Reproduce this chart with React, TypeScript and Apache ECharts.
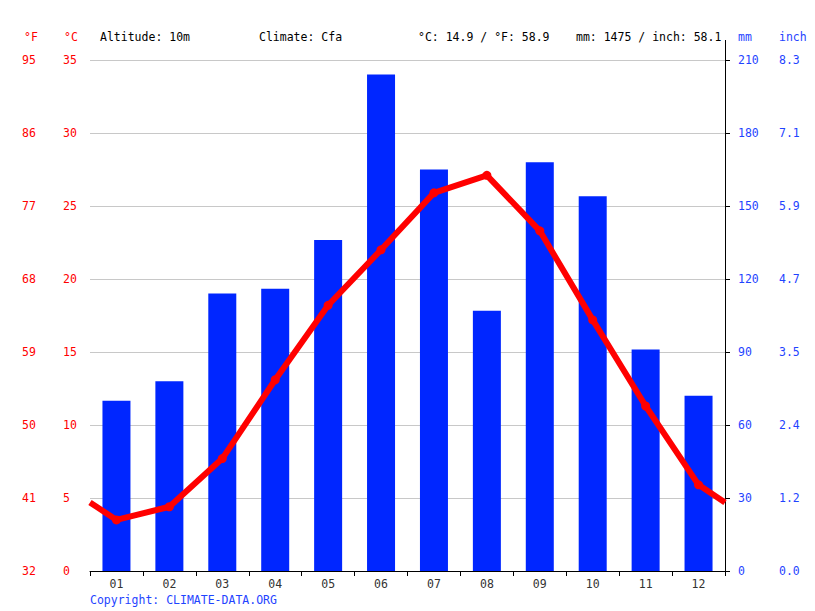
import React, { useEffect, useRef } from "react";
import * as echarts from "echarts";

const months = ["01", "02", "03", "04", "05", "06", "07", "08", "09", "10", "11", "12"];
const precipMm = [70, 78, 114, 116, 136, 204, 165, 107, 168, 154, 91, 72];
const tempC = [3.5, 4.4, 7.7, 13.1, 18.2, 22.0, 25.9, 27.1, 23.3, 17.2, 11.3, 5.9];
const edgeTempC = 4.7;
const headerTexts = [
  { text: "Altitude: 10m", x: 100 },
  { text: "Climate: Cfa", x: 259 },
  { text: "°C: 14.9 / °F: 58.9", x: 418 },
  { text: "mm: 1475 / inch: 58.1", x: 576 },
];

const FONT = "DejaVu Sans Mono";
const RED = "#ff0000";
const BLUE = "#0026ff";
const LABEL_BLUE = "#1f44ff";

export default function App() {
  const ref = useRef<HTMLDivElement>(null);
  useEffect(() => {
    if (!ref.current) return;
    const chart = echarts.init(ref.current, undefined, { renderer: "svg" });
    const lineData: any[] = [{ value: [0.5, edgeTempC], symbol: "none" }];
    tempC.forEach((t, i) => lineData.push({ value: [i + 1, t] }));
    lineData.push({ value: [12.5, edgeTempC], symbol: "none" });

    const fs = 11.5;
    const pad = [2, 0, 0, 0];
    chart.setOption({
      animation: false,
      backgroundColor: "#ffffff",
      grid: { left: 90, right: 90, top: 60, bottom: 40, containLabel: false },
      xAxis: [
        {
          type: "category",
          data: months,
          boundaryGap: true,
          axisLine: { show: true, lineStyle: { color: "#000", width: 1 } },
          axisTick: { show: true, length: 5, lineStyle: { color: "#000" } },
          axisLabel: { color: "#333", fontFamily: FONT, fontSize: fs, margin: 7 },
          splitLine: { show: false },
        },
        {
          type: "value",
          min: 0.5,
          max: 12.5,
          show: false,
        },
      ],
      yAxis: [
        {
          type: "value",
          min: 0,
          max: 35,
          interval: 5,
          position: "left",
          offset: 0,
          axisLine: { show: false },
          axisTick: { show: false },
          axisLabel: { color: RED, fontFamily: FONT, fontSize: fs, margin: 27, align: "left", padding: pad },
          splitLine: { show: true, lineStyle: { color: "#c8c8c8", width: 1 } },
        },
        {
          type: "value",
          min: 0,
          max: 35,
          interval: 5,
          position: "left",
          offset: 0,
          axisLine: { show: false },
          axisTick: { show: false },
          axisLabel: {
            color: RED,
            fontFamily: FONT,
            fontSize: fs,
            margin: 68,
            align: "left",
            padding: pad,
            formatter: (v: number) => String(Math.round((v * 9) / 5 + 32)),
          },
          splitLine: { show: false },
        },
        {
          type: "value",
          min: 0,
          max: 210,
          interval: 30,
          position: "right",
          offset: 0,
          axisLine: { show: true, lineStyle: { color: "#000", width: 1 } },
          axisTick: { show: true, inside: false, length: 5, lineStyle: { color: "#000" } },
          axisLabel: { color: LABEL_BLUE, fontFamily: FONT, fontSize: fs, margin: 13, padding: pad },
          splitLine: { show: false },
        },
        {
          type: "value",
          min: 0,
          max: 210,
          interval: 30,
          position: "right",
          offset: 0,
          axisLine: { show: false },
          axisTick: { show: false },
          axisLabel: {
            color: LABEL_BLUE,
            fontFamily: FONT,
            fontSize: fs,
            margin: 54,
            padding: pad,
            formatter: (v: number) => (v / 25.4).toFixed(1),
          },
          splitLine: { show: false },
        },
      ],
      series: [
        {
          type: "bar",
          xAxisIndex: 0,
          yAxisIndex: 2,
          data: precipMm,
          barWidth: 28,
          itemStyle: { color: BLUE },
          z: 2,
        },
        {
          type: "line",
          xAxisIndex: 1,
          yAxisIndex: 0,
          data: lineData,
          symbol: "circle",
          symbolSize: 9,
          lineStyle: { color: RED, width: 6 },
          itemStyle: { color: RED },
          z: 3,
        },
      ],
      graphic: [
        ...headerTexts.map((h) => ({
          type: "text",
          x: h.x,
          y: 37,
          style: { text: h.text, fill: "#000", font: `${fs}px "${FONT}"`, verticalAlign: "middle" },
        })),
        { type: "text", x: 24, y: 37, style: { text: "°F", fill: RED, font: `${fs}px "${FONT}"`, verticalAlign: "middle" } },
        { type: "text", x: 64, y: 37, style: { text: "°C", fill: RED, font: `${fs}px "${FONT}"`, verticalAlign: "middle" } },
        { type: "text", x: 738, y: 37, style: { text: "mm", fill: LABEL_BLUE, font: `${fs}px "${FONT}"`, verticalAlign: "middle" } },
        { type: "text", x: 779, y: 37, style: { text: "inch", fill: LABEL_BLUE, font: `${fs}px "${FONT}"`, verticalAlign: "middle" } },
        {
          type: "text",
          x: 90,
          y: 600,
          style: { text: "Copyright: CLIMATE-DATA.ORG", fill: LABEL_BLUE, font: `${fs}px "${FONT}"`, verticalAlign: "middle" },
        },
        { type: "line", shape: { x1: 725.5, y1: 40, x2: 725.5, y2: 60 }, style: { stroke: "#000", lineWidth: 1 } },
      ],
    });
    return () => chart.dispose();
  }, []);
  return <div ref={ref} style={{ width: 815, height: 611, position: "absolute", left: 0, top: 0 }} />;
}
